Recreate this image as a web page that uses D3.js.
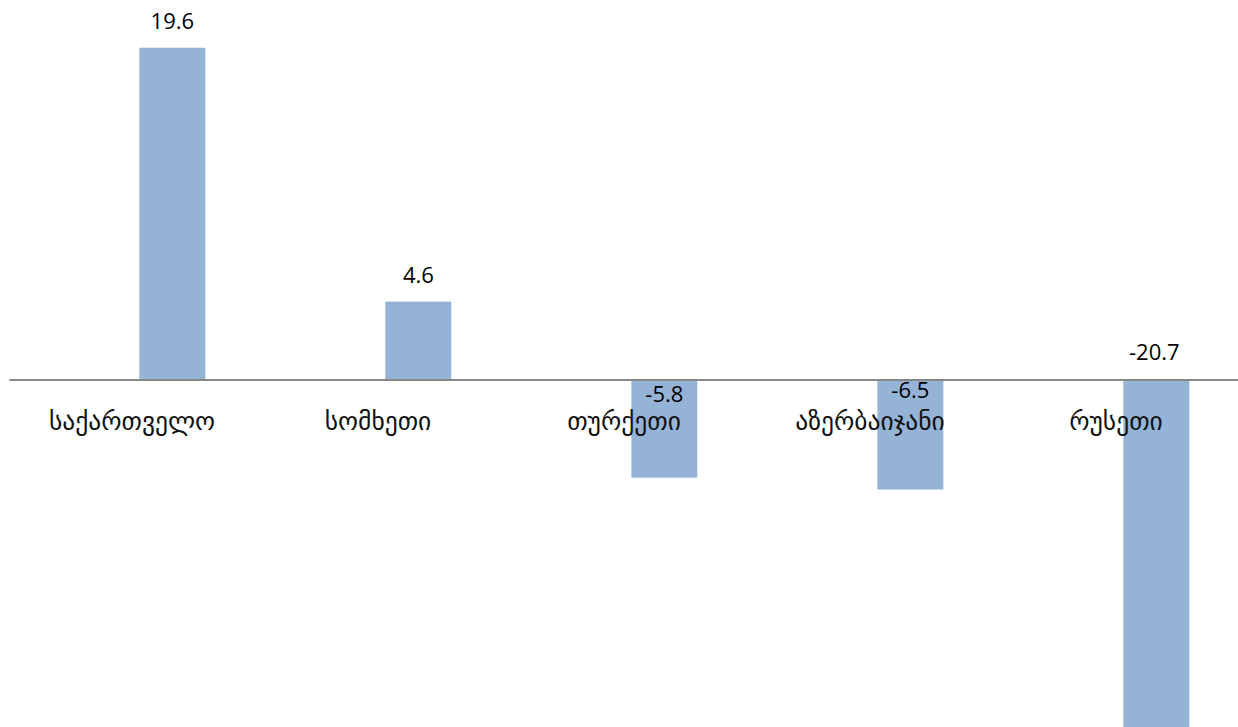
<!DOCTYPE html>
<html>
<head>
<meta charset="utf-8">
<script src="https://cdn.jsdelivr.net/npm/d3@7"></script>
<style>
  html, body { margin: 0; padding: 0; background: #ffffff; overflow: hidden; }
  svg { display: block; }
</style>
</head>
<body>
<svg id="chart" width="1238" height="727"></svg>
<script>
const categories = ["საქართველო", "სომხეთი", "თურქეთი", "აზერბაიჯანი", "რუსეთი"];
const values = [19.6, 4.6, -5.8, -6.5, -20.7];
const valueLabels = ["19.6", "4.6", "-5.8", "-6.5", "-20.7"];

const W = 1238, H = 727;
const svg = d3.select("#chart");

const x = d3.scaleBand().domain(categories).range([9, 1239]).padding(0);
const y = d3.scaleLinear().domain([-20.53, 22.42]).range([H, 0]);
const bw = x.bandwidth();
const barOffset = bw * 0.53;
const barWidth = bw * 0.268;
const y0 = y(0);

const data = categories.map((c, i) => ({ c, v: values[i], label: valueLabels[i], i }));

svg.append("g").selectAll("rect").data(data).join("rect")
  .attr("x", d => x(d.c) + barOffset)
  .attr("y", d => Math.min(y(d.v), y0))
  .attr("width", barWidth)
  .attr("height", d => Math.abs(y(d.v) - y0))
  .attr("fill", "#95b3d7");

// zero axis line
const axis = d3.axisBottom(x).tickSize(0).tickPadding(0);
const gAxis = svg.append("g").attr("transform", `translate(0,${y0})`).call(axis);
gAxis.select(".domain").attr("stroke", "#878787").attr("stroke-width", 2);
gAxis.selectAll(".tick text")
  .attr("y", 51)
  .attr("dy", 0)
  .attr("font-family", "'DejaVu Sans', 'Noto Sans', sans-serif")
  .attr("font-size", 25.5)
  .attr("fill", "#111");

// value labels
function labelY(d) {
  if (d.v >= 0) return y(d.v) - 19;
  if (d.i === 2) return y0 + 23;
  if (d.i === 3) return y0 + 19;
  return y0 - 19;
}
svg.append("g").selectAll("text").data(data).join("text")
  .attr("x", d => x(d.c) + barOffset + barWidth / 2 - (d.i === 4 ? 2 : 0))
  .attr("y", labelY)
  .attr("text-anchor", "middle")
  .attr("font-family", "'Open Sans', Lato, sans-serif")
  .attr("font-size", 22)
  .attr("fill", "#000")
  .text(d => d.label);
</script>
</body>
</html>
